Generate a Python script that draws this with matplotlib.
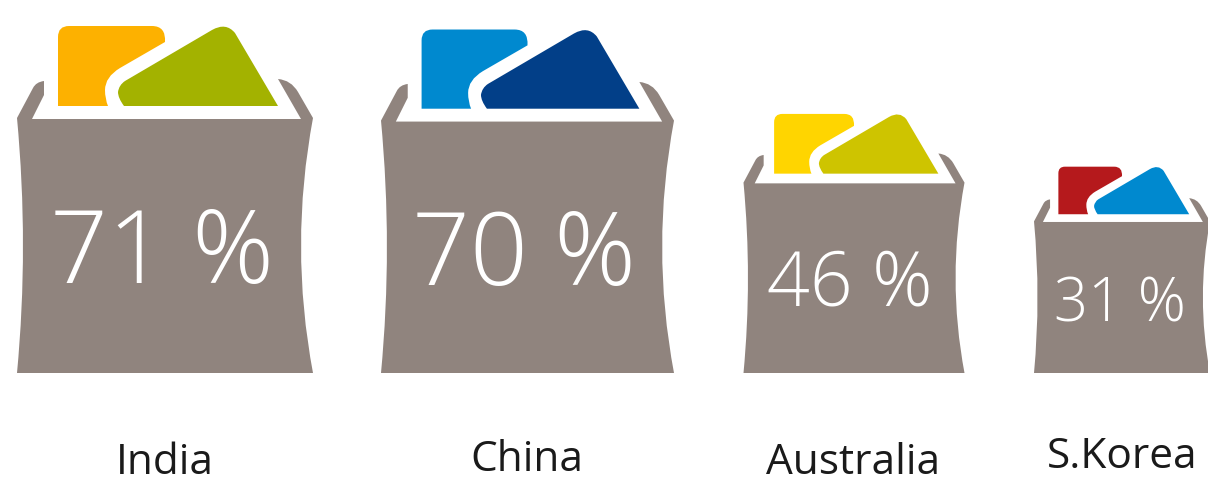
import matplotlib
matplotlib.use("Agg")
import matplotlib.pyplot as plt
from matplotlib.patches import PathPatch
from matplotlib.path import Path

# -------------------------------
# Data
# -------------------------------
countries = ["India", "China", "Australia", "S.Korea"]
shares = [71, 70, 46, 31]
left_colors = ["#FDB100", "#0089CF", "#FFD500", "#B5191C"]
right_colors = ["#A3B200", "#023F88", "#CEC400", "#0089CF"]

BAG_COLOR = "#90847E"
BASELINE = 373

# layout of each bag
bag_lefts = [17, 381, 743.5, 1034]
pct_centers = [(162, 245), (524, 246), (850, 277), (1120, 298)]
pct_sizes = [73, 73, 54, 43]
label_centers = [(165, 458), (527, 455), (853, 458), (1122, 452)]


def bag_width(share):
    # bag size grows linearly with the share
    return 83 + 3 * share


# -------------------------------
# Glyph outlines, 296 units wide, y measured up from the base
# -------------------------------
M, L, C = Path.MOVETO, Path.LINETO, Path.CURVE3

BAG = [
    ((0, 0), M),
    ((12, 127), C), ((0, 255), C),
    ((16, 285), L),
    ((19, 291), C), ((27, 292), C),
    ((27, 278), L),
    ((15, 254), L),
    ((284, 254), L),
    ((261, 294), L),
    ((274, 293), C), ((281, 281), C),
    ((296, 255), L),
    ((272, 127), C), ((296, 0), C),
    ((0, 0), L),
]

LEFT_CARD = [
    ((41, 267), M),
    ((41, 336), L),
    ((41, 347), C), ((52, 347), C),
    ((135, 347), L),
    ((149, 347), C), ((148, 331), C),
    ((103, 305), L),
    ((88, 296), C), ((88, 283), C),
    ((88, 274), C), ((91, 267), C),
    ((41, 267), L),
]

RIGHT_CARD = [
    ((107, 267), M),
    ((101, 275), C), ((101, 281), C),
    ((102, 288), C), ((108, 292), C),
    ((195, 343), L),
    ((209, 351), C), ((218, 340), C),
    ((261, 267), L),
    ((107, 267), L),
]


def draw_glyph(ax, outline, left, scale, color):
    verts = [(left + x * scale, BASELINE - y * scale) for (x, y), _ in outline]
    codes = [code for _, code in outline]
    ax.add_patch(PathPatch(Path(verts, codes), facecolor=color, edgecolor="none"))


# -------------------------------
# Figure
# -------------------------------
fig = plt.figure(figsize=(12.08, 4.78), dpi=100)
ax = fig.add_axes([0, 0, 1, 1])
ax.set_xlim(0, 1208)
ax.set_ylim(478, 0)
ax.axis("off")

for i, share in enumerate(shares):
    scale = bag_width(share) / 296
    draw_glyph(ax, BAG, bag_lefts[i], scale, BAG_COLOR)
    draw_glyph(ax, LEFT_CARD, bag_lefts[i], scale, left_colors[i])
    draw_glyph(ax, RIGHT_CARD, bag_lefts[i], scale, right_colors[i])

    ax.text(pct_centers[i][0], pct_centers[i][1], f"{share} %", color="white",
            fontsize=pct_sizes[i], family="Open Sans", weight="light",
            ha="center", va="center_baseline")
    ax.text(label_centers[i][0], label_centers[i][1], countries[i], color="#1a1a1a",
            fontsize=30.5, family="Open Sans",
            ha="center", va="center_baseline")

fig.savefig("out.png", dpi=100)
